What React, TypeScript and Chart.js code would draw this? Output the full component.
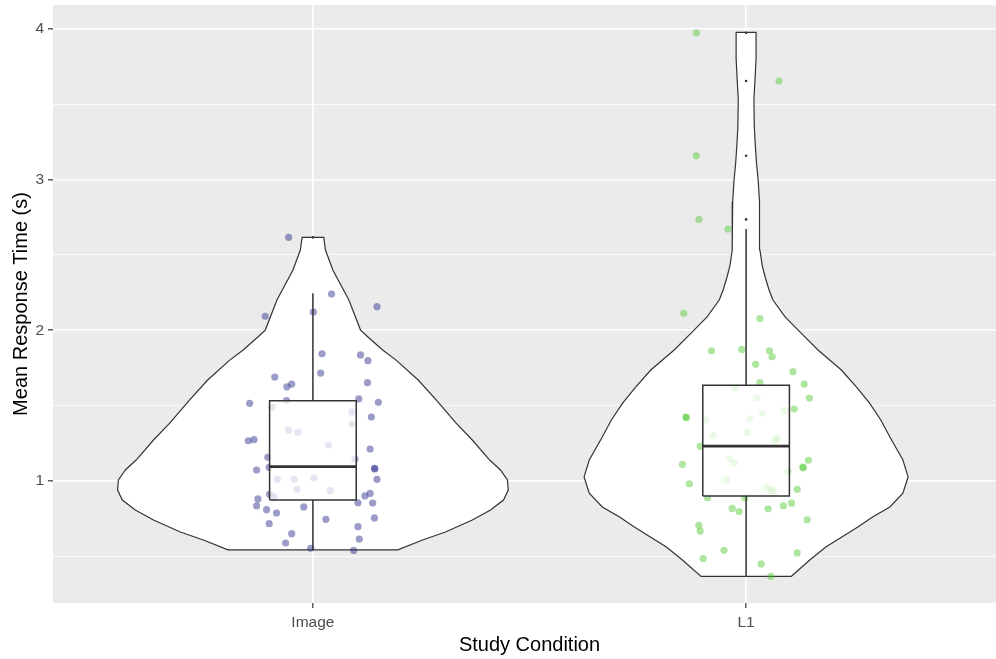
import React, { useEffect, useRef } from 'react';
import { Chart, registerables } from 'chart.js';

Chart.register(...registerables);

// ---------- data ----------
const categories = ['Image', 'L1'];
const categoryPositions = [1, 2];
const yTickValues = [0.5, 1, 1.5, 2, 2.5, 3, 3.5, 4];

// violin outlines: response-time levels and density half-widths (category units)
const imageViolinY = [0.543, 0.609, 0.662, 0.741, 0.808, 0.874, 0.940, 1.007, 1.073, 1.139, 1.272, 1.385, 1.537, 1.670, 1.802, 1.869, 1.955, 2.001, 2.200, 2.399, 2.532, 2.616];
const imageViolinHalf = [0.196, 0.253, 0.306, 0.368, 0.410, 0.440, 0.451, 0.449, 0.433, 0.408, 0.368, 0.330, 0.285, 0.243, 0.192, 0.161, 0.127, 0.110, 0.083, 0.046, 0.029, 0.025];

const l1ViolinY = [0.367, 0.476, 0.562, 0.695, 0.761, 0.828, 0.920, 1.027, 1.139, 1.292, 1.405, 1.517, 1.623, 1.736, 1.869, 1.981, 2.088, 2.200, 2.267, 2.353, 2.432, 2.532, 2.850, 2.990, 3.110, 3.240, 3.350, 3.530, 3.630, 3.800, 3.975];
const l1ViolinHalf = [0.104, 0.147, 0.184, 0.258, 0.292, 0.332, 0.362, 0.374, 0.362, 0.332, 0.311, 0.285, 0.255, 0.220, 0.166, 0.127, 0.090, 0.062, 0.053, 0.044, 0.037, 0.032, 0.031, 0.028, 0.024, 0.021, 0.019, 0.018, 0.020, 0.023, 0.023];

// box plot statistics (Image, L1)
const boxLower = [0.542, 0.365];
const boxQ1 = [0.874, 0.900];
const boxMedian = [1.095, 1.232];
const boxQ3 = [1.532, 1.635];
const boxUpper = [2.245, 2.671];
const imageOutliers = [2.616];
const l1Outliers = [3.973, 3.653, 3.157, 2.735];

// jittered observations
const imageX = [0.944, 1.043, 1.148, 0.890, 1.001, 1.021, 1.110, 1.127, 0.912, 1.018, 1.126, 0.951, 0.940, 1.106, 0.939, 0.854, 1.151, 0.906, 1.090, 1.135, 1.090, 0.944, 0.965, 0.851, 0.864, 1.036, 1.132, 0.896, 1.097, 1.142, 1.143, 0.870, 0.899, 1.148, 0.918, 0.957, 1.002, 0.963, 1.040, 0.910, 0.900, 0.873, 0.870, 1.132, 1.120, 1.104, 1.138, 0.979, 0.893, 0.916, 1.030, 1.142, 0.899, 1.104, 0.951, 1.107, 0.937, 0.995, 1.094];
const imageY = [2.616, 2.240, 2.156, 2.092, 2.121, 1.844, 1.836, 1.798, 1.690, 1.716, 1.652, 1.643, 1.625, 1.545, 1.534, 1.515, 1.522, 1.489, 1.458, 1.424, 1.378, 1.338, 1.323, 1.267, 1.274, 1.239, 1.212, 1.157, 1.146, 1.084, 1.080, 1.073, 1.091, 1.011, 1.011, 1.011, 1.020, 0.945, 0.936, 0.896, 0.912, 0.881, 0.836, 0.918, 0.901, 0.856, 0.854, 0.828, 0.810, 0.788, 0.746, 0.755, 0.717, 0.697, 0.651, 0.615, 0.589, 0.554, 0.540];

const l1X = [1.885, 2.076, 1.885, 1.891, 1.958, 1.856, 2.032, 1.920, 1.990, 2.054, 2.060, 2.022, 2.108, 2.032, 2.134, 2.146, 1.974, 2.025, 2.089, 2.111, 2.038, 1.861, 1.862, 1.907, 2.009, 1.924, 2.003, 2.067, 2.073, 1.894, 1.962, 1.972, 1.853, 2.144, 2.131, 2.132, 2.096, 1.869, 1.955, 2.048, 2.058, 2.063, 2.118, 1.911, 1.997, 1.968, 1.984, 2.051, 2.086, 2.105, 2.141, 1.891, 1.894, 1.949, 1.901, 2.118, 2.035, 2.057];
const l1Y = [3.973, 3.653, 3.157, 2.735, 2.671, 2.112, 2.077, 1.864, 1.873, 1.864, 1.824, 1.774, 1.725, 1.652, 1.643, 1.550, 1.615, 1.550, 1.469, 1.477, 1.449, 1.424, 1.420, 1.405, 1.413, 1.303, 1.322, 1.270, 1.284, 1.230, 1.148, 1.119, 1.111, 1.137, 1.092, 1.088, 1.063, 0.982, 1.008, 0.956, 0.936, 0.936, 0.945, 0.889, 0.889, 0.818, 0.798, 0.816, 0.836, 0.853, 0.743, 0.706, 0.668, 0.541, 0.486, 0.523, 0.450, 0.367];

// ---------- styling ----------
const FONT = "'Liberation Sans', Arial, Helvetica, sans-serif";
const BOX_HALF = 0.1;
const LINE_COLOR = '#333333';
const IMAGE_COLOR = 'rgba(35,35,135,0.45)';
const L1_COLOR = 'rgba(75,200,45,0.45)';

function violinPolygon(center: number, ys: number[], halves: number[]) {
  const right = ys.map((y, i) => ({ x: center + halves[i], y }));
  const left = ys.map((y, i) => ({ x: center - halves[i], y })).reverse();
  return [...right, ...left, right[0]];
}

function boxPolygon(i: number) {
  const c = categoryPositions[i];
  return [
    { x: c - BOX_HALF, y: boxQ1[i] },
    { x: c + BOX_HALF, y: boxQ1[i] },
    { x: c + BOX_HALF, y: boxQ3[i] },
    { x: c - BOX_HALF, y: boxQ3[i] },
    { x: c - BOX_HALF, y: boxQ1[i] },
  ];
}

function whiskers(i: number) {
  const c = categoryPositions[i];
  return [
    { x: c, y: boxLower[i] },
    { x: c, y: boxQ1[i] },
    { x: c, y: null },
    { x: c, y: boxQ3[i] },
    { x: c, y: boxUpper[i] },
  ];
}

const panelBackground = {
  id: 'panelBackground',
  beforeDraw(chart: any) {
    const { ctx, chartArea: a } = chart;
    ctx.save();
    ctx.fillStyle = '#EBEBEB';
    ctx.fillRect(a.left, a.top, a.right - a.left, a.bottom - a.top);
    ctx.restore();
  },
};

const lineBase = {
  type: 'line' as const,
  pointRadius: 0,
  pointHoverRadius: 0,
  pointHitRadius: 0,
  tension: 0,
  spanGaps: false,
};

export default function App() {
  const ref = useRef<HTMLCanvasElement | null>(null);

  useEffect(() => {
    if (!ref.current) return;
    const datasets: any[] = [
      {
        ...lineBase,
        data: violinPolygon(categoryPositions[0], imageViolinY, imageViolinHalf),
        fill: 'shape',
        backgroundColor: '#FFFFFF',
        borderColor: LINE_COLOR,
        borderWidth: 1.2,
        order: 10,
      },
      {
        ...lineBase,
        data: violinPolygon(categoryPositions[1], l1ViolinY, l1ViolinHalf),
        fill: 'shape',
        backgroundColor: '#FFFFFF',
        borderColor: LINE_COLOR,
        borderWidth: 1.2,
        order: 10,
      },
      {
        type: 'scatter',
        data: imageX.map((x, i) => ({ x, y: imageY[i] })),
        pointBackgroundColor: IMAGE_COLOR,
        backgroundColor: IMAGE_COLOR,
        pointBorderWidth: 0,
        borderWidth: 0,
        pointRadius: 3.6,
        pointHoverRadius: 3.6,
        order: 5,
      },
      {
        type: 'scatter',
        data: l1X.map((x, i) => ({ x, y: l1Y[i] })),
        pointBackgroundColor: L1_COLOR,
        backgroundColor: L1_COLOR,
        pointBorderWidth: 0,
        borderWidth: 0,
        pointRadius: 3.6,
        pointHoverRadius: 3.6,
        order: 5,
      },
    ];

    categoryPositions.forEach((c, i) => {
      datasets.push({
        ...lineBase,
        data: boxPolygon(i),
        fill: 'shape',
        backgroundColor: 'rgba(255,255,255,0.75)',
        borderColor: LINE_COLOR,
        borderWidth: 1.5,
        order: 2,
      });
      datasets.push({
        ...lineBase,
        data: whiskers(i),
        fill: false,
        borderColor: LINE_COLOR,
        borderWidth: 1.5,
        order: 1,
      });
      datasets.push({
        ...lineBase,
        data: [
          { x: c - BOX_HALF, y: boxMedian[i] },
          { x: c + BOX_HALF, y: boxMedian[i] },
        ],
        fill: false,
        borderColor: LINE_COLOR,
        borderWidth: 2.8,
        order: 1,
      });
    });

    datasets.push({
      type: 'scatter',
      data: imageOutliers.map((y) => ({ x: categoryPositions[0], y })),
      pointBackgroundColor: LINE_COLOR,
      pointBorderWidth: 0,
      pointRadius: 1.3,
      order: 0,
    });
    datasets.push({
      type: 'scatter',
      data: l1Outliers.map((y) => ({ x: categoryPositions[1], y })),
      pointBackgroundColor: LINE_COLOR,
      pointBorderWidth: 0,
      pointRadius: 1.3,
      order: 0,
    });

    const chart = new Chart(ref.current, {
      type: 'scatter',
      data: { datasets },
      plugins: [panelBackground],
      options: {
        responsive: false,
        animation: false,
        devicePixelRatio: 1,
        events: [],
        layout: { padding: { top: 5, left: 0, right: 0, bottom: 0 } },
        plugins: {
          legend: { display: false },
          tooltip: { enabled: false },
        },
        scales: {
          x: {
            type: 'linear',
            min: 0.4,
            max: 2.6,
            afterBuildTicks: (s: any) => {
              s.ticks = categoryPositions.map((v) => ({ value: v }));
            },
            afterFit: (s: any) => {
              s.height = 56;
              s.paddingLeft = 0;
              s.paddingRight = 0;
            },
            ticks: {
              autoSkip: false,
              maxRotation: 0,
              color: '#4D4D4D',
              font: { family: FONT, size: 15.5 },
              padding: 5,
              callback: (v: any) => {
                const idx = categoryPositions.indexOf(Number(v));
                return idx >= 0 ? categories[idx] : '';
              },
            },
            grid: {
              color: '#FFFFFF',
              lineWidth: 1.6,
              tickLength: 5,
              tickColor: LINE_COLOR,
              tickWidth: 1.2,
            },
            border: { display: false },
            title: {
              display: true,
              text: 'Study Condition',
              color: '#000000',
              font: { family: FONT, size: 20 },
              padding: { top: 0, bottom: 2 },
            },
          },
          y: {
            type: 'linear',
            min: 0.191,
            max: 4.157,
            afterBuildTicks: (s: any) => {
              s.ticks = yTickValues.map((v) => ({ value: v }));
            },
            afterFit: (s: any) => {
              s.width = 53;
              s.paddingTop = 0;
              s.paddingBottom = 0;
            },
            ticks: {
              autoSkip: false,
              color: '#4D4D4D',
              font: { family: FONT, size: 15.5 },
              padding: 4,
              callback: (v: any) => (Number.isInteger(Number(v)) ? String(v) : ''),
            },
            grid: {
              color: '#FFFFFF',
              lineWidth: (ctx: any) => (ctx.tick && Number.isInteger(ctx.tick.value) ? 1.6 : 0.8),
              tickLength: 5,
              tickColor: (ctx: any) =>
                ctx.tick && Number.isInteger(ctx.tick.value) ? LINE_COLOR : 'rgba(0,0,0,0)',
              tickWidth: 1.2,
            },
            border: { display: false },
            title: {
              display: true,
              text: 'Mean Response Time (s)',
              color: '#000000',
              font: { family: FONT, size: 20 },
              padding: { top: 9, bottom: 0 },
            },
          },
        },
      } as any,
    });

    return () => chart.destroy();
  }, []);

  return (
    <div
      style={{
        position: 'fixed',
        left: 0,
        top: 0,
        width: 996,
        height: 659,
        overflow: 'hidden',
        background: '#FFFFFF',
      }}
    >
      <canvas ref={ref} width={1010} height={659} style={{ display: 'block' }} />
    </div>
  );
}
